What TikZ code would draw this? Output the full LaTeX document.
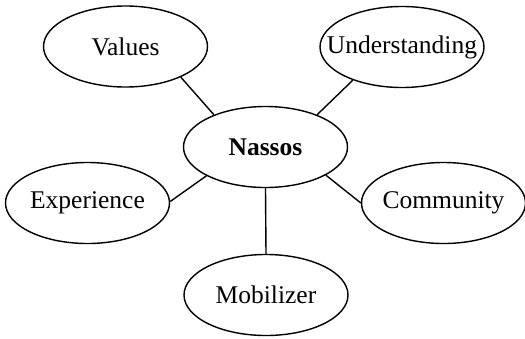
\documentclass[tikz,border=0pt]{standalone}
\usepackage{fontspec}
\setmainfont{Liberation Serif}
\usetikzlibrary{shapes.geometric}
% zero-width label so every ellipse keeps the same size
\newcommand\snug[1]{\makebox[0pt]{#1}}
\tikzset{topic/.style={draw,ellipse,line width=1.4pt,minimum width=164pt,
  minimum height=81pt,inner sep=0pt,font=\fontsize{25.5}{29}\selectfont},
  tie/.style={line width=1.4pt}}

\begin{document}
\begin{tikzpicture}[x=1pt,y=-1pt]
\useasboundingbox (0,0) rectangle (525,338);
\node[topic,font=\fontsize{25.5}{29}\selectfont\bfseries] (n) at (265.5,147) {\snug{Nassos}};
\node[topic] (v) at (125.5,46.5) {\snug{Values}};
\node[topic] (u) at (402,47) {\snug{Understanding}};
\node[topic] (x) at (87.5,203) {\snug{Experience}};
\node[topic] (c) at (443.5,203) {\snug{Community}};
\node[topic] (m) at (266,295) {\snug{Mobilizer}};
\draw[tie] (v.-29)--(n.148);\draw[tie] (u.214)--(n.32);
\draw[tie] (x.1)--(n.206);\draw[tie] (c.180)--(n.-25);
\draw[tie] (n.south)--(m.north);
\end{tikzpicture}
\end{document}
